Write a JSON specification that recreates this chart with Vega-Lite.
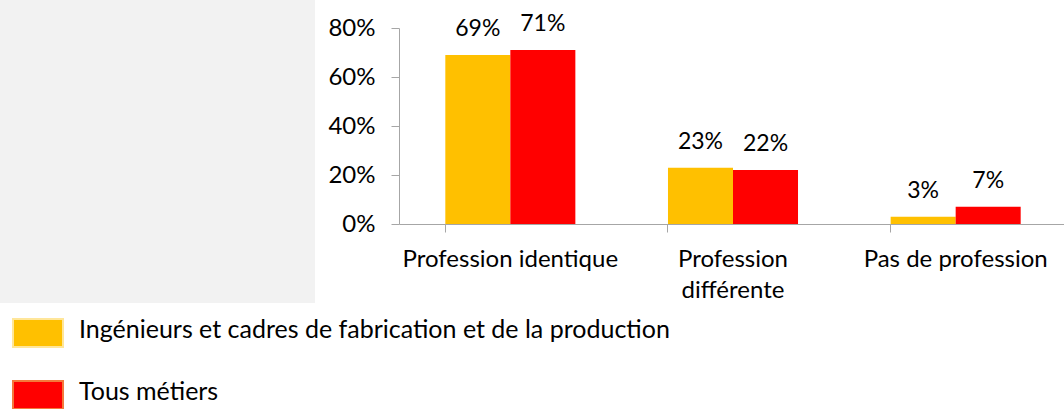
{
  "$schema": "https://vega.github.io/schema/vega-lite/v6.json",
  "padding": 0,
  "background": "white",
  "config": {"font": "Lato", "view": {"stroke": null}},
  "spacing": 12,
  "hconcat": [
    {
      "width": 315,
      "height": 303,
      "data": {"values": []},
      "mark": "point",
      "view": {"fill": "#f2f2f2", "stroke": null}
    },
    {
      "spacing": 12,
      "vconcat": [
        {
          "width": 10,
          "height": 1,
          "data": {"values": []},
          "mark": "point",
          "view": {"stroke": null}
        },
        {
          "width": 668,
          "height": 196,
          "view": {"stroke": null},
          "data": {
            "values": [
              {"cat": "Profession identique", "serie": "Ingénieurs et cadres de fabrication et de la production", "value": 0.69},
              {"cat": "Profession identique", "serie": "Tous métiers", "value": 0.71},
              {"cat": "Profession différente", "serie": "Ingénieurs et cadres de fabrication et de la production", "value": 0.23},
              {"cat": "Profession différente", "serie": "Tous métiers", "value": 0.22},
              {"cat": "Pas de profession", "serie": "Ingénieurs et cadres de fabrication et de la production", "value": 0.03},
              {"cat": "Pas de profession", "serie": "Tous métiers", "value": 0.07}
            ]
          },
          "encoding": {
            "x": {
              "field": "cat",
              "type": "nominal",
              "sort": ["Profession identique", "Profession différente", "Pas de profession"],
              "scale": {"paddingInner": 0.416, "paddingOuter": 0.208},
              "axis": {
                "title": null,
                "labelAngle": 0,
                "bandPosition": 0,
                "domainColor": "#a6a6a6",
                "tickColor": "#a6a6a6",
                "tickSize": 8,
                "labelFontSize": 24,
                "labelColor": "#000000",
                "labelPadding": 15,
                "labelLineHeight": 31,
                "labelLimit": 0,
                "labelExpr": "datum.label == 'Profession différente' ? ['Profession', 'différente'] : datum.label"
              }
            },
            "xOffset": {
              "field": "serie",
              "sort": ["Ingénieurs et cadres de fabrication et de la production", "Tous métiers"]
            },
            "y": {
              "field": "value",
              "type": "quantitative",
              "scale": {"domain": [0, 0.8], "nice": false},
              "axis": {
                "title": null,
                "values": [0, 0.2, 0.4, 0.6, 0.8],
                "format": ".0%",
                "grid": false,
                "domainColor": "#a6a6a6",
                "tickColor": "#a6a6a6",
                "tickSize": 8,
                "labelFontSize": 24,
                "labelColor": "#000000",
                "labelPadding": 16
              }
            }
          },
          "layer": [
            {
              "mark": {"type": "bar"},
              "encoding": {
                "color": {
                  "field": "serie",
                  "type": "nominal",
                  "sort": ["Ingénieurs et cadres de fabrication et de la production", "Tous métiers"],
                  "scale": {
                    "domain": ["Ingénieurs et cadres de fabrication et de la production", "Tous métiers"],
                    "range": ["#FFC000", "#FF0000"]
                  },
                  "legend": {
                    "title": null,
                    "orient": "none",
                    "legendX": 23,
                    "legendY": 318,
                    "padding": 0,
                    "symbolType": "M-1.786,-1L1.786,-1L1.786,1L-1.786,1Z",
                    "symbolSize": 784,
                    "symbolOpacity": 1,
                    "labelFontSize": 25,
                    "labelColor": "#000000",
                    "labelOffset": 26,
                    "labelLimit": 0,
                    "rowPadding": 26,
                    "encode": {
                      "symbols": {
                        "update": {
                          "stroke": {"signal": "datum.value == 'Tous métiers' ? '#F4793B' : '#FFE699'"},
                          "strokeWidth": {"value": 2}
                        }
                      },
                      "labels": {
                        "update": {
                          "dy": {"value": -3}
                        }
                      }
                    }
                  }
                }
              }
            },
            {
              "mark": {"type": "text", "baseline": "middle", "dy": -26, "fontSize": 23, "color": "#000000"},
              "encoding": {
                "text": {"field": "value", "type": "quantitative", "format": ".0%"}
              }
            }
          ]
        }
      ]
    }
  ]
}
